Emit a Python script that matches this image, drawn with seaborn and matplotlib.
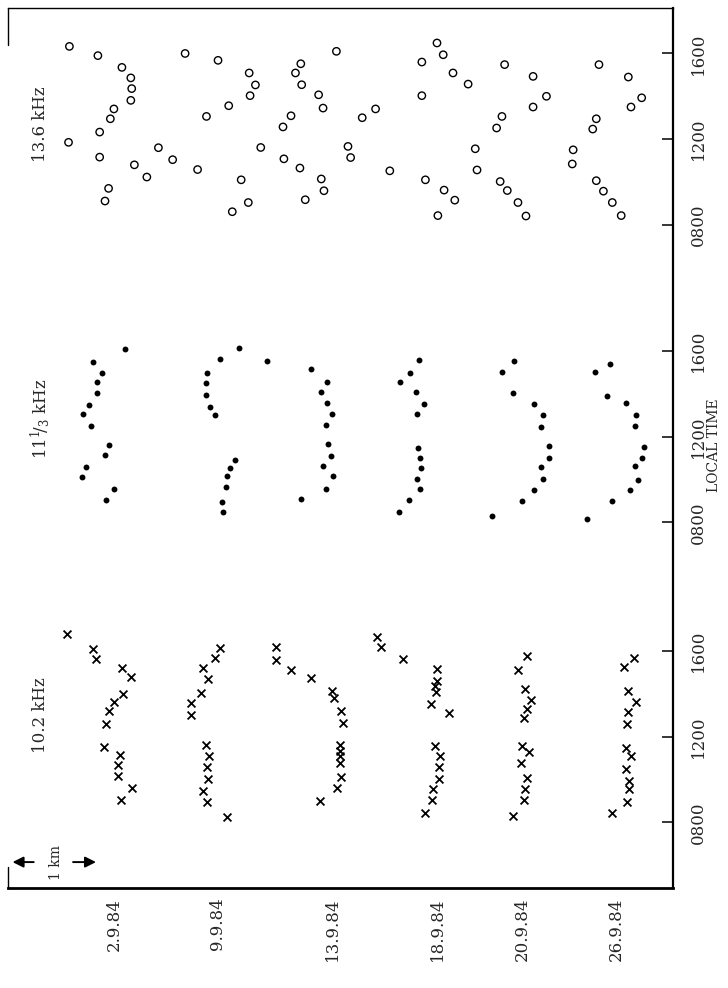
import numpy as np
import pandas as pd
import matplotlib
matplotlib.use("Agg")
import matplotlib.pyplot as plt
import seaborn as sns

sns.set_theme(style="white")
plt.rcParams['font.family'] = ['DejaVu Serif']
plt.rcParams['mathtext.fontset'] = 'dejavuserif'

# ---------------- data (x: km across the chart, t: local time in hours) -------------
dates = ['2.9.84', '9.9.84', '13.9.84', '18.9.84', '20.9.84', '26.9.84']
date_km = [1.20, 2.35, 3.65, 4.82, 5.78, 6.84]

time_ticks = [8, 12, 16]
time_labels = ['0800', '1200', '1600']

# 10.2 kHz (crosses)
x_102 = [0.66, 0.95, 0.99, 1.28, 1.38, 1.29, 1.19, 1.13, 1.10, 1.08, 1.26, 1.24, 1.24, 1.39, 1.27,
         2.38, 2.33, 2.19, 2.25, 2.17, 2.06, 2.06, 2.23, 2.26, 2.24, 2.25, 2.19, 2.24, 2.46,
         3.01, 3.01, 3.18, 3.41, 3.64, 3.66, 3.74, 3.76, 3.73, 3.73, 3.73, 3.73, 3.74, 3.70, 3.51,
         4.15, 4.19, 4.44, 4.82, 4.82, 4.80, 4.81, 4.75, 4.95, 4.80, 4.85, 4.84, 4.84, 4.77, 4.76, 4.68,
         5.83, 5.73, 5.81, 5.88, 5.83, 5.80, 5.77, 5.85, 5.76, 5.83, 5.81, 5.80, 5.67,
         7.03, 6.92, 6.97, 7.06, 6.97, 6.96, 6.94, 7.00, 6.94, 6.98, 6.98, 6.96, 6.79]
t_102 = [16.78, 16.09, 15.61, 15.18, 14.78, 13.99, 13.61, 13.19, 12.60, 11.52, 11.14, 10.68, 10.18, 9.58, 9.06,
         16.12, 15.69, 15.18, 14.71, 14.05, 13.57, 13.00, 11.62, 11.11, 10.57, 10.04, 9.44, 8.93, 8.25,
         16.17, 15.56, 15.12, 14.74, 14.14, 13.80, 13.19, 12.64, 11.62, 11.35, 11.11, 10.76, 10.13, 9.61, 8.98,
         16.64, 16.20, 15.64, 15.14, 14.59, 14.35, 14.08, 13.51, 13.12, 11.58, 11.11, 10.57, 10.00, 9.56, 9.02, 8.43,
         15.77, 15.11, 14.22, 13.70, 13.29, 12.85, 11.58, 11.27, 10.75, 10.09, 9.53, 9.06, 8.30,
         15.66, 15.25, 14.11, 13.61, 13.13, 12.61, 11.46, 11.08, 10.51, 9.92, 9.53, 8.93, 8.45]

# 11 1/3 kHz (dots)
x_113 = [1.31, 0.95, 1.06, 1.00, 1.00, 0.91, 0.84, 0.93, 1.13, 1.09, 0.88, 0.83, 1.19, 1.10,
         2.60, 2.91, 2.38, 2.24, 2.23, 2.22, 2.27, 2.33, 2.55, 2.49, 2.46, 2.45, 2.40, 2.42,
         3.41, 3.58, 3.52, 3.58, 3.64, 3.57, 3.59, 3.63, 3.54, 3.65, 3.57, 3.29,
         4.62, 4.52, 4.40, 4.58, 4.67, 4.60, 4.61, 4.63, 4.64, 4.60, 4.63, 4.51, 4.39,
         5.69, 5.55, 5.67, 5.91, 6.01, 5.99, 6.08, 6.08, 5.99, 6.01, 5.91, 5.77, 5.44,
         6.76, 6.60, 6.73, 6.94, 7.06, 7.04, 7.15, 7.12, 7.05, 7.08, 6.99, 6.79, 6.51]
t_113 = [16.09, 15.51, 15.00, 14.57, 14.06, 13.48, 13.05, 12.52, 11.63, 11.13, 10.58, 10.10, 9.54, 9.03,
         16.16, 15.55, 15.64, 14.99, 14.51, 13.93, 13.38, 13.01, 10.90, 10.56, 10.18, 9.67, 8.97, 8.48,
         15.16, 14.57, 14.10, 13.57, 13.05, 12.57, 11.66, 11.12, 10.63, 10.18, 9.57, 9.10,
         15.59, 14.99, 14.56, 14.11, 13.54, 13.06, 11.47, 11.02, 10.53, 10.02, 9.57, 9.05, 8.48,
         15.53, 15.02, 14.05, 13.54, 13.01, 12.48, 11.58, 11.02, 10.59, 10.05, 9.53, 9.02, 8.31,
         15.41, 15.02, 13.89, 13.57, 13.00, 12.50, 11.52, 11.00, 10.65, 10.00, 9.51, 9.02, 8.14]

# 13.6 kHz (open circles)
x_136 = [0.69, 1.01, 1.28, 1.38, 1.39, 1.38, 1.19, 1.15, 1.03, 0.68, 1.03, 1.42, 1.13, 1.09, 1.56,
         1.69, 1.85, 2.13, 1.99, 2.36, 2.71, 2.78, 2.72, 2.48, 2.23, 2.62, 2.70, 2.52,
         2.84, 3.10, 3.28, 3.52, 3.55, 3.34, 3.29, 3.23, 3.30, 3.49, 3.54, 3.18, 3.09, 3.69, 3.82, 3.85,
         4.13, 3.98, 4.29, 4.82, 4.89, 4.65, 5.00, 5.17, 4.65, 4.69, 4.90, 5.02, 4.83, 5.25, 5.27,
         5.58, 5.90, 6.05, 5.90, 5.55, 5.49, 5.53, 5.61, 5.73, 5.82,
         6.64, 6.97, 7.12, 7.00, 6.61, 6.57, 6.35, 6.34, 6.61, 6.69, 6.79, 6.89]
t_136 = [16.33, 15.90, 15.35, 14.86, 14.36, 13.81, 13.41, 12.95, 12.33, 11.85, 11.16, 10.80, 9.70, 9.11, 10.23,
         11.60, 11.04, 10.58, 16.00, 15.68, 15.09, 14.53, 14.03, 13.56, 13.06, 10.10, 9.04, 8.61,
         11.61, 11.08, 10.65, 10.14, 9.59, 9.17, 15.52, 15.09, 14.54, 14.07, 13.45, 13.09, 12.57, 16.10, 11.66, 11.14,
         13.41, 13.00, 10.52, 16.49, 15.94, 15.60, 15.09, 14.57, 14.03, 10.10, 9.62, 9.15, 8.43, 11.55, 10.56,
         15.48, 14.93, 14.00, 13.50, 13.06, 12.52, 10.02, 9.60, 9.04, 8.41,
         15.48, 14.90, 13.93, 13.50, 12.95, 12.47, 11.50, 10.84, 10.06, 9.57, 9.04, 8.43]

panel_names = ['10.2 kHz', r'11$^{1}\!/_{3}$ kHz', '13.6 kHz']
panel_offset = [0, 14, 27.9]   # vertical stacking of the three time panels

df102 = pd.DataFrame({'km': x_102, 'y': np.array(t_102) + panel_offset[0]})
df113 = pd.DataFrame({'km': x_113, 'y': np.array(t_113) + panel_offset[1]})
df136 = pd.DataFrame({'km': x_136, 'y': np.array(t_136) + panel_offset[2]})

# ---------------- figure ----------------
W, H = 728, 988
fig = plt.figure(figsize=(W / 100, H / 100), dpi=100)
L, R, T, B = 8, 673, 8.5, 888
ax = fig.add_axes([L / W, 1 - B / H, (R - L) / W, (B - T) / H])

sns.scatterplot(data=df102, x='km', y='y', marker='x', s=32, color='black',
                edgecolor='black', linewidth=1.3, ax=ax, zorder=3)
sns.scatterplot(data=df113, x='km', y='y', marker='o', s=18, color='black',
                edgecolor='black', linewidth=0, ax=ax, zorder=3)
sns.scatterplot(data=df136, x='km', y='y', marker='o', s=28, color='black',
                facecolor='none', edgecolor='black', linewidth=1.0, ax=ax, zorder=3)

ax.set_xlim(0, (R - L) / 89)
ax.set_ylim(4.93, 46.0)
ax.set_xlabel('')
ax.set_ylabel('')

# date labels on the bottom
ax.set_xticks(date_km)
ax.set_xticklabels(dates, rotation=90, va='top', ha='center', fontsize=12)
ax.tick_params(axis='x', length=0, pad=7)

# time ticks on the right
yt, yl = [], []
for off in panel_offset:
    for tt, lab in zip(time_ticks, time_labels):
        yt.append(tt + off)
        yl.append(lab)
ax.yaxis.tick_right()
ax.set_yticks(yt)
ax.set_yticklabels(yl, fontsize=12)
ax.tick_params(axis='y', which='both', direction='in', length=8, width=1.3,
               pad=12, labelrotation=90, left=False, right=True)
for lab in ax.get_yticklabels():
    lab.set_verticalalignment('center')

# spines
for s in ['top', 'right', 'bottom']:
    ax.spines[s].set_color('black')
ax.spines['top'].set_linewidth(1.0)
ax.spines['right'].set_linewidth(1.6)
ax.spines['bottom'].set_linewidth(2.0)
ax.spines['left'].set_visible(False)
ax.plot([0, 0], [1, 0.958], transform=ax.transAxes, color='black', lw=1.0, clip_on=False)
ax.plot([0, 0], [0, 0.024], transform=ax.transAxes, color='black', lw=1.0, clip_on=False)

# panel labels
for name, off, tc in zip(panel_names, panel_offset, [13.0, 12.85, 12.72]):
    ax.text(0.36, tc + off, name, rotation=90, ha='center', va='center', fontsize=12)

# 1 km scale bar
ybar = 6.14
ax.annotate('', xy=(0.02, ybar), xytext=(0.32, ybar),
            arrowprops=dict(arrowstyle='-|>', color='black', lw=1.4, mutation_scale=16))
ax.annotate('', xy=(1.02, ybar), xytext=(0.70, ybar),
            arrowprops=dict(arrowstyle='-|>', color='black', lw=1.4, mutation_scale=16))
ax.text(0.54, ybar, '1 km', rotation=90, ha='center', va='center', fontsize=10)

fig.text(714 / W, 1 - 445 / H, 'LOCAL TIME', rotation=90, ha='center', va='center', fontsize=10)

fig.savefig('out.png', dpi=100)
